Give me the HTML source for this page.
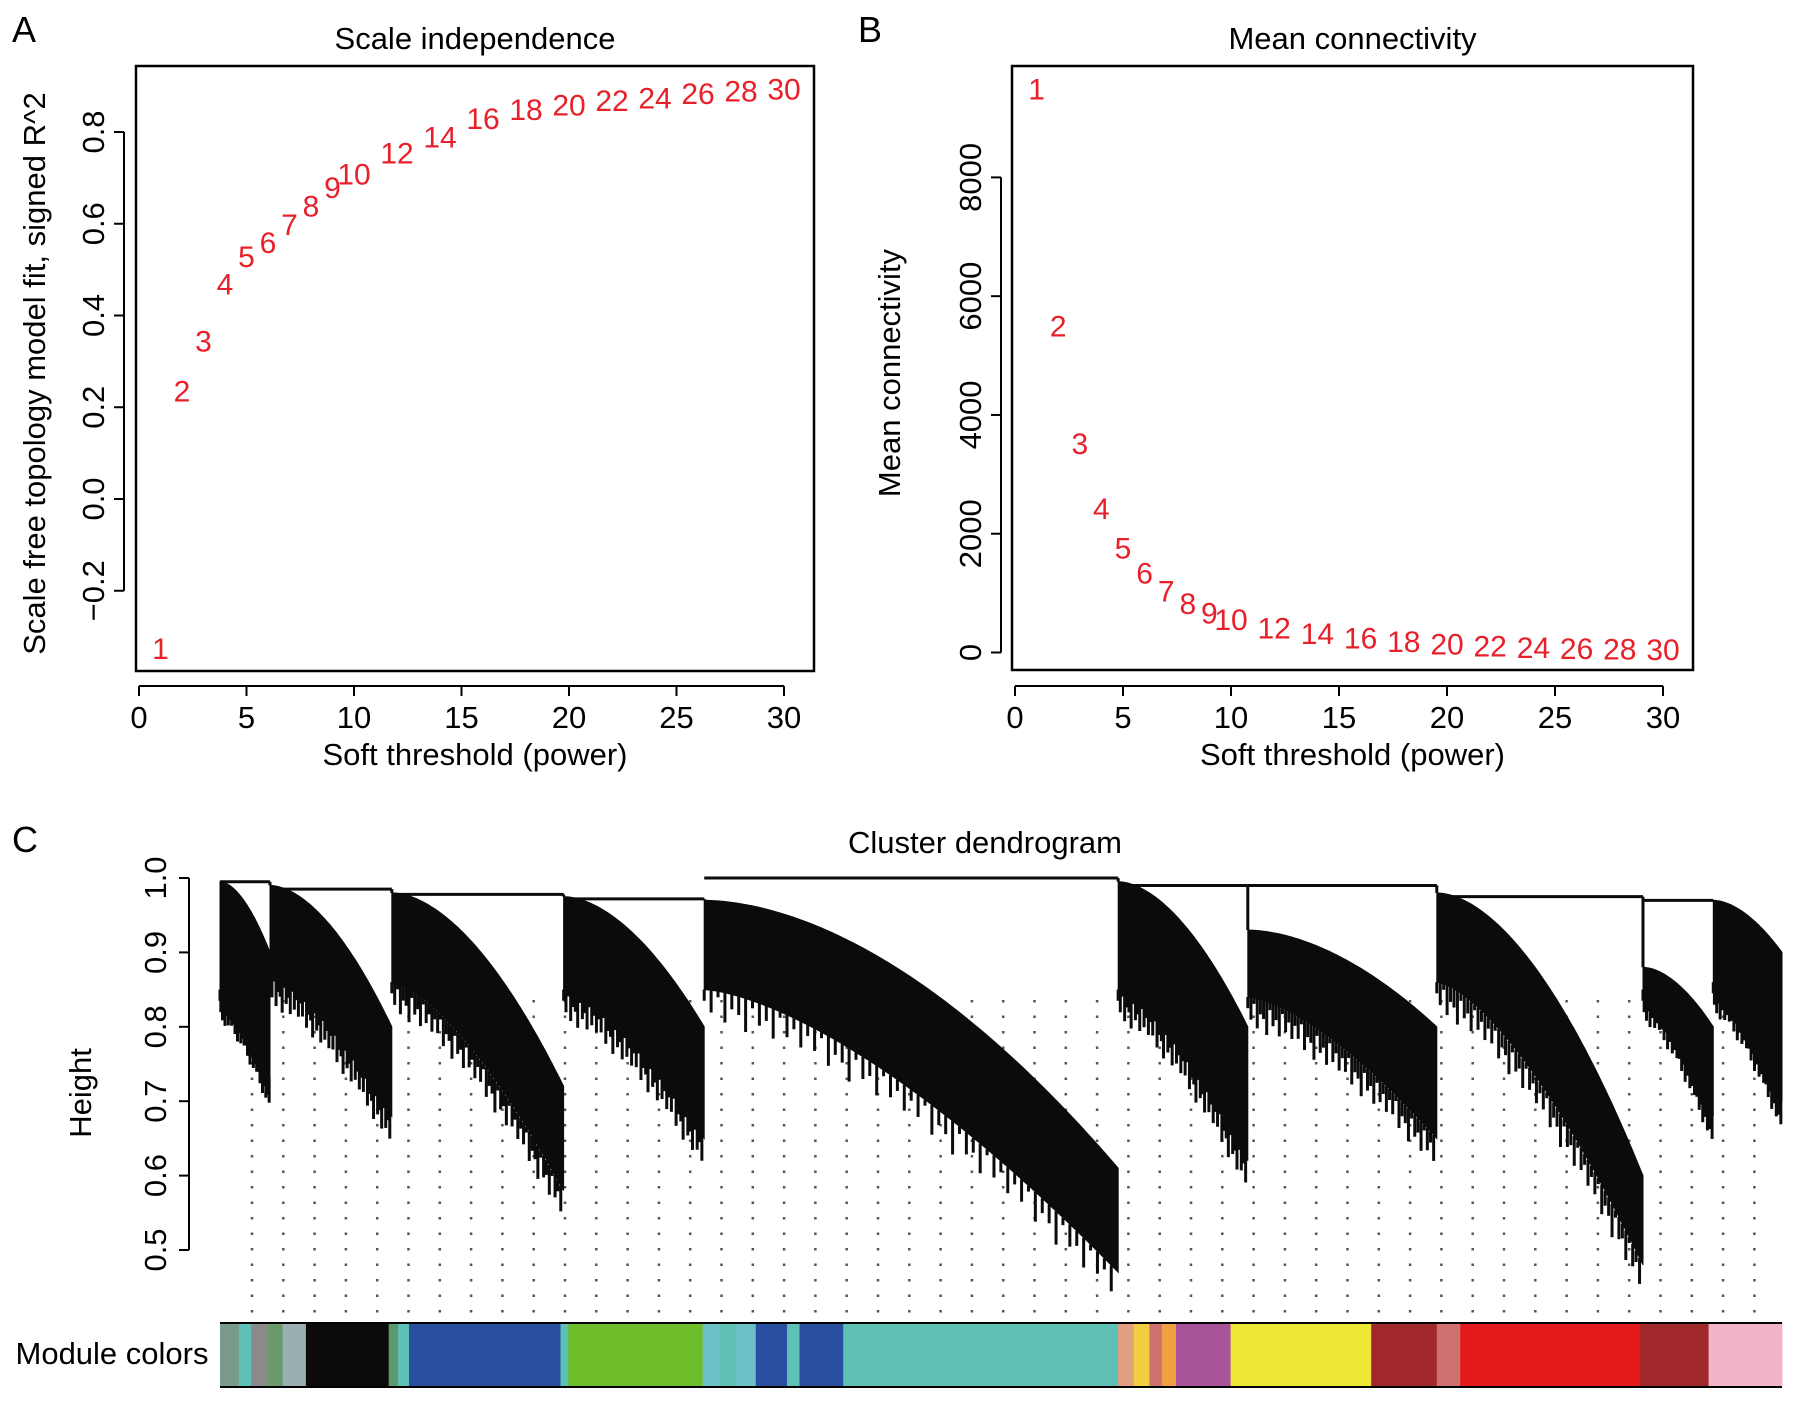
<!DOCTYPE html>
<html><head><meta charset="utf-8"><style>
html,body{margin:0;padding:0;background:#fff;}
svg{display:block;font-family:"Liberation Sans",Arial,sans-serif;}
</style></head><body>
<svg id="fig" width="1795" height="1401" viewBox="0 0 1795 1401">
<g id="pA"></g>
<g id="pB"></g>
<g id="pC"></g>
</svg>
<script>
const powers = [1,2,3,4,5,6,7,8,9,10,12,14,16,18,20,22,24,26,28,30];
const fitR2 = [-0.325,0.237,0.345,0.47,0.53,0.56,0.60,0.64,0.68,0.71,0.755,0.79,0.83,0.85,0.86,0.87,0.875,0.885,0.89,0.895];
const meanK = [9500,5510,3530,2430,1770,1350,1040,830,675,560,425,330,250,195,155,115,95,78,70,58];
const xTicks = [0,5,10,15,20,25,30];
const yTicksA = [-0.2,0,0.2,0.4,0.6,0.8];
const yTickLabelsA = ["\u22120.2","0.0","0.2","0.4","0.6","0.8"];
const yTicksB = [0,2000,4000,6000,8000];
const yTicksC = [0.5,0.6,0.7,0.8,0.9,1.0];
// dendrogram clusters
const clStart = [0,32,110,220,310,575,658,779,911,956];
const clEnd   = [32,110,220,310,575,658,779,911,956,1000];
const clTop   = [0.995,0.99,0.98,0.975,0.97,0.995,0.93,0.98,0.88,0.97];
const clBot0  = [0.85,0.87,0.86,0.85,0.85,0.85,0.84,0.86,0.85,0.86];
const clBot1  = [0.73,0.68,0.58,0.65,0.47,0.62,0.65,0.48,0.68,0.70];
const clUp1   = [0.90,0.80,0.72,0.80,0.61,0.80,0.80,0.60,0.80,0.90];
const mergeH = [0.995,0.985,0.978,0.972,1.0,0.99,0.99,0.975,0.97];
// module color bar segments
const segStart = [0,12,20,30,40,55,108,114,121,218,223,309,320,330,343,363,371,399,575,585,595,603,612,647,737,779,794,909,953];
const segEnd   = [12,20,30,40,55,108,114,121,218,223,309,320,330,343,363,371,399,575,585,595,603,612,647,737,779,794,909,953,1000];
const segColor = ["#7a9a8a","#5fc1b6","#8a8a8a","#6a9a6a","#9ab0b0","#0d0a0a","#5a9a70","#5fc1b6","#2a4fa0","#5fc1b6","#6ebe2b","#6cc0c8","#5fc1b6","#6cc0c8","#2a4fa0","#5fc1b6","#2a4fa0","#5fc1b6","#e0a080","#f0d040","#d07070","#f0a040","#a8549b","#f0e837","#a0282a","#d07070","#e31a1c","#a0282a","#f2b5c8"];

const NS="http://www.w3.org/2000/svg";
function mk(parent,tag,attrs,text){const e=document.createElementNS(NS,tag);for(const k in attrs)e.setAttribute(k,attrs[k]);if(text!==undefined)e.textContent=text;parent.appendChild(e);return e;}

function scatterPanel(g, cfg){
  const {box,xs,ys,yt,ytl,vals,title,ylab,letter,lx,ylabX,axY,axX} = cfg;
  let t=mk(g,'text',{x:lx,y:42,'font-size':36});t.textContent=letter;
  
  t=mk(g,'text',{x:(box[0]+box[2])/2,y:49,'font-size':31,'text-anchor':'middle'},title);
  
  let r=mk(g,'rect',{x:box[0],y:box[1],width:box[2]-box[0],height:box[3]-box[1],fill:'none',stroke:'#000','stroke-width':2.5});
  
  let ax=mk(g,'line',{x1:xs(xTicks[0]),x2:xs(xTicks[xTicks.length-1]),y1:axY,y2:axY,stroke:'#000','stroke-width':2});
  
  xTicks.forEach(v=>{mk(g,'line',{x1:xs(v),x2:xs(v),y1:axY,y2:axY+10,stroke:'#000','stroke-width':2});
    const tl=mk(g,'text',{x:xs(v),y:axY+42,'font-size':31,'text-anchor':'middle'},String(v));
    });
  t=mk(g,'text',{x:(box[0]+box[2])/2,y:765,'font-size':31,'text-anchor':'middle'},'Soft threshold (power)');
  
  ax=mk(g,'line',{x1:axX,x2:axX,y1:ys(yt[0]),y2:ys(yt[yt.length-1]),stroke:'#000','stroke-width':2});
  
  yt.forEach((v,i)=>{mk(g,'line',{x1:axX-10,x2:axX,y1:ys(v),y2:ys(v),stroke:'#000','stroke-width':2});
    const tl=mk(g,'text',{x:0,y:0,'font-size':31,'text-anchor':'middle',transform:`translate(${axX-20},${ys(v)}) rotate(-90)`},ytl[i]);
    });
  t=mk(g,'text',{x:0,y:0,'font-size':31,'text-anchor':'middle',transform:`translate(${ylabX},${(box[1]+box[3])/2+5}) rotate(-90)`},ylab);
  
  powers.forEach((p,i)=>{
    const pt=mk(g,'text',{x:xs(p),y:ys(vals[i])+11,'font-size':30,'text-anchor':'middle',fill:'#e8202a'},String(p));
    
  });
}

const xsA=v=>139+v*(784-139)/30;
const ysA=v=>499-v*(499-132)/0.8;
scatterPanel(document.getElementById('pA'),{box:[136,66,814,671],xs:xsA,ys:ysA,yt:yTicksA,ytl:yTickLabelsA,vals:fitR2,
  title:'Scale independence',ylab:'Scale free topology model fit, signed R^2',letter:'A',lx:12,ylabX:45,axY:686,axX:124});
const xsB=v=>1015+v*(1663-1015)/30;
const ysB=v=>652.5-v*(652.5-177.4)/8000;
scatterPanel(document.getElementById('pB'),{box:[1012,66,1693,670],xs:xsB,ys:ysB,yt:yTicksB,ytl:yTicksB.map(String),vals:meanK,
  title:'Mean connectivity',ylab:'Mean connectivity',letter:'B',lx:858,ylabX:900,axY:686,axX:1001});

const gC=document.getElementById('pC');
const xl=l=>220+l*(1782-220)/1000;
const yh=h=>878+(1-h)*744;
let t=mk(gC,'text',{x:12,y:852,'font-size':36},'C');

t=mk(gC,'text',{x:985,y:853,'font-size':31,'text-anchor':'middle'},'Cluster dendrogram');

let ax=mk(gC,'line',{x1:189,x2:189,y1:yh(1.0),y2:yh(0.5),stroke:'#000','stroke-width':2});

yTicksC.forEach(v=>{mk(gC,'line',{x1:179,x2:189,y1:yh(v),y2:yh(v),stroke:'#000','stroke-width':2});
  const tl=mk(gC,'text',{x:0,y:0,'font-size':31,'text-anchor':'middle',transform:`translate(${166},${yh(v)}) rotate(-90)`},v.toFixed(1));
  });
t=mk(gC,'text',{x:0,y:0,'font-size':31,'text-anchor':'middle',transform:'translate(91,1093) rotate(-90)'},'Height');

const dots=mk(gC,'g',{stroke:'#555','stroke-width':2.5,'stroke-dasharray':'2.5 13'});

for(let x=252;x<1760;x+=31.3){mk(dots,'line',{x1:x,x2:x,y1:1000,y2:1318});}
const dg=mk(gC,'g',{fill:'#0d0a0a',stroke:'#0d0a0a'});

const fringe=[0.015,0.03,0.008,0.04,0.02,0.025,0.045,0.01,0.03,0.02,0.04,0.008,0.03,0.015,0.035];
clStart.forEach((s,i)=>{
  const e=clEnd[i],n=60;let up=[],lo=[];
  for(let k=0;k<=n;k++){const f=k/n;const l=s+(e-s)*f;
    up.push([xl(l),yh(clTop[i]-(clTop[i]-clUp1[i])*Math.pow(f,1.8))]);
    lo.push([xl(l),yh(clBot0[i]-(clBot0[i]-clBot1[i])*Math.pow(f,1.5))]);}
  const pts=up.concat(lo.reverse()).map(p=>p[0].toFixed(1)+','+p[1].toFixed(1)).join(' ');
  const poly=mk(dg,'polygon',{points:pts,'stroke-width':1});
  
  for(let k=0;k<n;k+=1){const f=k/n;const l=s+(e-s)*f;
    const b=clBot0[i]-(clBot0[i]-clBot1[i])*Math.pow(f,1.5);
    mk(dg,'line',{x1:xl(l),x2:xl(l),y1:yh(b),y2:yh(b-fringe[k%fringe.length]),'stroke-width':3});}
});
mergeH.forEach((h,i)=>{
  const a=clStart[i],b=clStart[i+1];
  const ln=mk(dg,'line',{x1:xl(a),x2:xl(b),y1:yh(h),y2:yh(h),'stroke-width':3});
  
  mk(dg,'line',{x1:xl(b),x2:xl(b),y1:yh(h),y2:yh(clTop[i+1]),'stroke-width':3});
});
t=mk(gC,'text',{x:112,y:1364,'font-size':31,'text-anchor':'middle'},'Module colors');

const cb=mk(gC,'g',{});

segStart.forEach((s,i)=>{
  const r=mk(cb,'rect',{x:xl(s),y:1323,width:xl(segEnd[i])-xl(s)+0.5,height:64,fill:segColor[i]});
  
});
mk(cb,'line',{x1:xl(0),x2:xl(1000),y1:1323,y2:1323,stroke:'#000','stroke-width':2});
mk(cb,'line',{x1:xl(0),x2:xl(1000),y1:1387,y2:1387,stroke:'#000','stroke-width':2});
</script>
</body></html>
